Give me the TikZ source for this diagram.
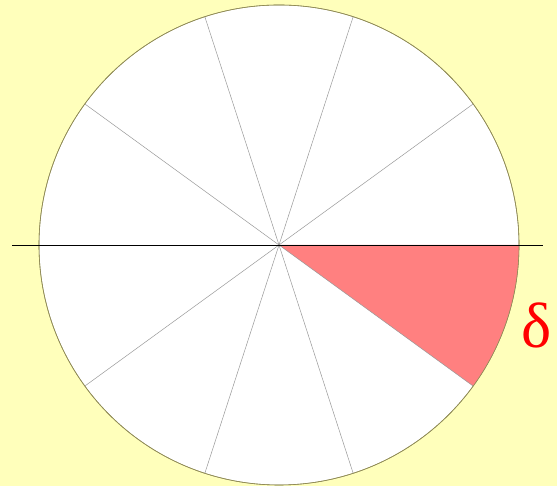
\documentclass[tikz,border=0pt]{standalone}
\usepackage{fontspec}
\usepackage{xcolor}
\newfontfamily\greekfont{Liberation Serif}
\definecolor{paper}{RGB}{255,255,187}
\definecolor{wedge}{RGB}{255,128,128}
\tikzset{spoke/.style={gray!80,line width=0.5pt}}

\begin{document}
\begin{tikzpicture}[x=1pt,y=1pt]
\fill[paper] (0,0) rectangle (557,486); \useasboundingbox (0,0) rectangle (557,486);
\coordinate (O) at (279,241);
\draw[olive!40!gray,fill=white,line width=0.6pt] (O) circle (240);
\fill[wedge] (O) -- ++(0:240) arc (0:-36:240) -- cycle;
\foreach \a in {36,72,...,324} { \draw[spoke] (O) -- ++(\a:240); }
\draw[olive!40!gray,line width=0.6pt] (O) circle (240);
\coordinate (L) at (12,241); \coordinate (R) at (543,241);
\draw[black,line width=0.8pt] (L) -- (R);
\node[red,font=\fontsize{64}{64}\greekfont] (delta) at (537,161) {δ};
\end{tikzpicture}
\end{document}
